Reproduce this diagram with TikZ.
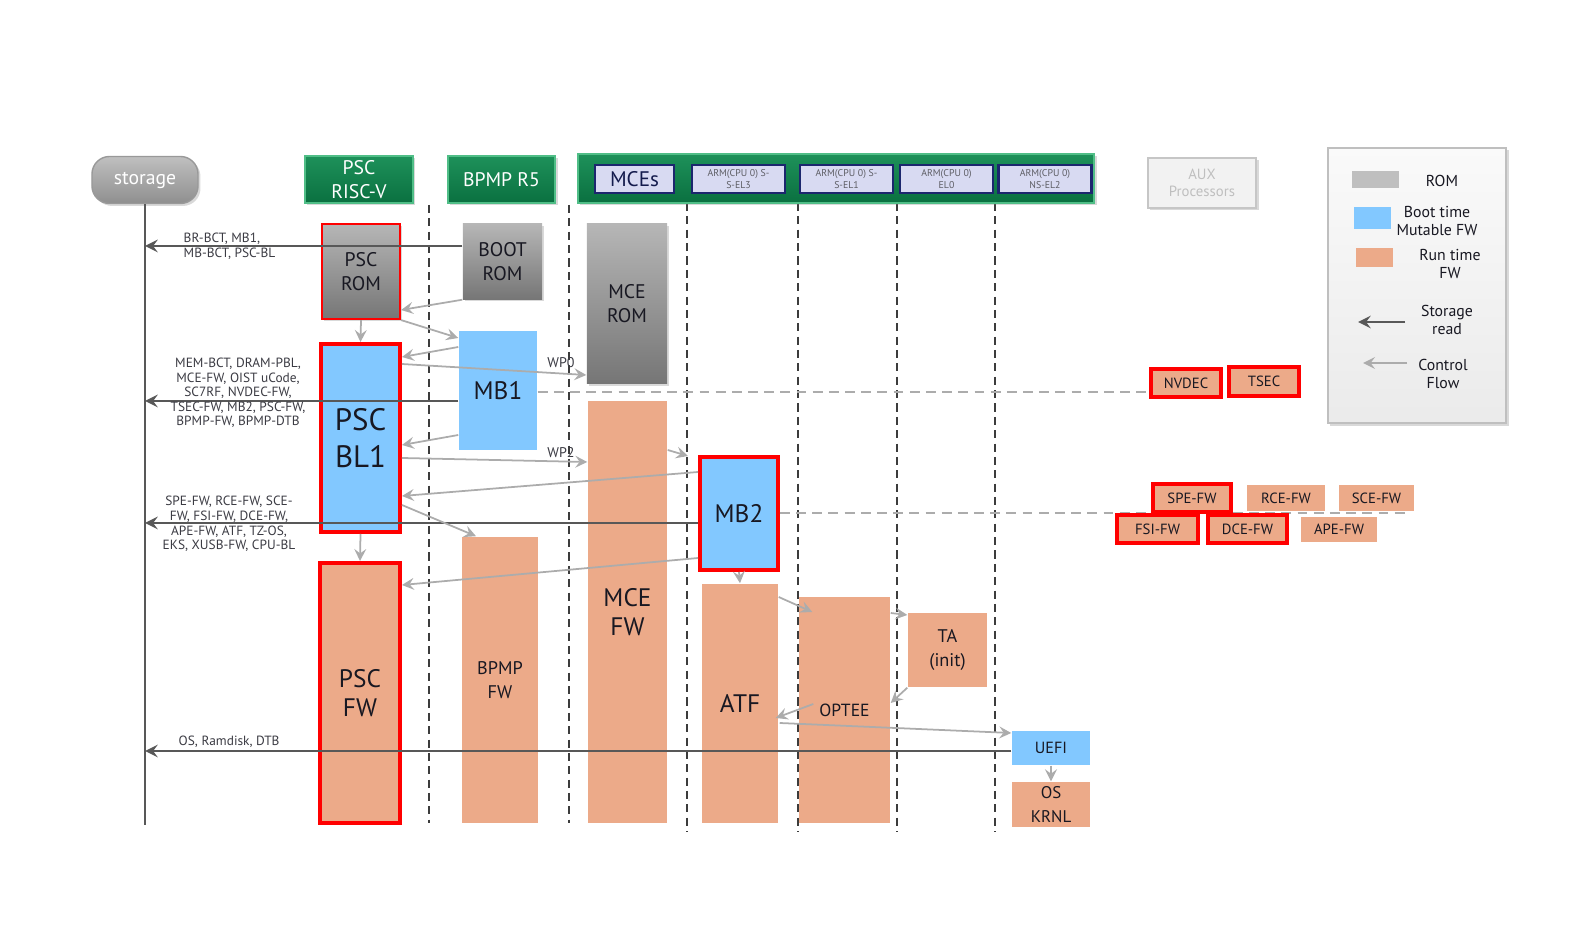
\documentclass[tikz,border=0pt]{standalone}
\usepackage{fontspec}
\setmainfont{PT Sans}
\usetikzlibrary{shadows,calc}
\definecolor{hdrgreen}{RGB}{10,112,64}
\definecolor{hdrlight}{RGB}{30,145,90}
\definecolor{hdredge}{RGB}{80,190,135}
\definecolor{romtop}{RGB}{182,182,182}
\definecolor{rombot}{RGB}{118,118,118}
\definecolor{bootblue}{RGB}{130,200,255}
\definecolor{runfw}{RGB}{236,170,137}
\definecolor{armfill}{RGB}{216,218,242}
\definecolor{armedge}{RGB}{28,38,110}
\definecolor{readline}{RGB}{88,88,88}
\definecolor{ctrlline}{RGB}{172,172,172}
\definecolor{lifeline}{RGB}{60,60,60}
\definecolor{txtdark}{RGB}{24,24,34}
\begin{document}
\begin{tikzpicture}[x=0.01cm,y=-0.01cm,>=stealth,
  fhuge/.style={font=\fontsize{8.8}{10.7}\selectfont},
  fbig/.style={font=\fontsize{7.2}{8.2}\selectfont},
  fmid/.style={font=\fontsize{5.6}{6.9}\selectfont},
  fsmall/.style={font=\fontsize{5.2}{6.9}\selectfont},
  ftiny/.style={font=\fontsize{4.2}{5}\selectfont},
  fleg/.style={font=\fontsize{4.5}{5.2}\selectfont},
  box/.style={inner sep=0pt,align=center,text=txtdark},
  shade/.style={drop shadow={shadow xshift=0.7pt,shadow yshift=-0.7pt,opacity=0.3}},
  rom/.style={box,fmid,top color=romtop,bottom color=rombot,shade},
  boot/.style={box,fill=bootblue},
  run/.style={box,fill=runfw},
  crit/.style={draw=red,line width=1.1pt},
  hdr/.style={box,fmid,text=white,top color=hdrlight,bottom color=hdrgreen,draw=hdredge,line width=0.5pt,shade},
  store/.style={box,fmid,text=white,rounded corners=5pt,top color=gray!50,middle color=gray!82,bottom color=gray!88,draw=gray!80,shade},
  arm/.style={box,fill=armfill,draw=armedge,line width=0.6pt,minimum width=0.93cm,minimum height=0.28cm,text=txtdark!70,font=\fontsize{2.8}{3.3}\selectfont},
  aux/.style={box,ftiny,fill=gray!10,draw=gray!45,line width=0.8pt,text=gray!50,shade},
  legbox/.style={box,top color=gray!4,bottom color=gray!16,draw=gray!50,line width=0.8pt,shade},
  fwsm/.style={box,ftiny,minimum height=0.28cm},
  life/.style={draw=lifeline,line width=0.55pt,dash pattern=on 2.3pt off 1.5pt},
  sep/.style={draw=ctrlline,line width=0.55pt,dash pattern=on 2.8pt off 1.8pt},
  rd/.style={->,draw=readline,line width=0.6pt},
  ctl/.style={->,draw=ctrlline,line width=0.5pt},
  lbl/.style={inner sep=0pt,align=center,text=txtdark!85,font=\fontsize{3.8}{4.15}\selectfont}
]
\useasboundingbox (0,0) rectangle (1591,928);
\foreach \lx/\ly/\lz in {429/205/823,569/205/823,687/203/832,798/203/832,897/203/832,995/203/832}
  \draw[life] (\lx,\ly) -- (\lx,\lz);

\node[store,minimum width=1.06cm,minimum height=0.47cm] (storage) at (145,180) {storage};
\node[hdr,minimum width=1.08cm,minimum height=0.47cm] (hpsc) at (359,179.5) {PSC\\RISC-V};
\node[hdr,minimum width=1.07cm,minimum height=0.47cm] (hbpmp) at (501.5,179.5) {BPMP R5};
\node[hdr,minimum width=5.16cm,minimum height=0.49cm] (hmce) at (836,178.5) {};
\node[arm,minimum width=0.79cm,text=armedge!70!black,font=\fontsize{6}{7}\selectfont] (mces) at (634.5,179) {MCEs};
\node[arm] (armsel3) at (738.5,179) {ARM(CPU 0) S-\\S-EL3};
\node[arm] (armsel1) at (846.5,179) {ARM(CPU 0) S-\\S-EL1};
\node[arm] (armel0) at (946.5,179) {ARM(CPU 0)\\EL0};
\node[arm] (armnsel2) at (1045,179) {ARM(CPU 0)\\NS-EL2};
\node[aux,minimum width=1.08cm,minimum height=0.50cm] (aux) at (1202,183) {AUX\\Processors};

\node[rom,crit,line width=0.6pt,minimum width=0.78cm,minimum height=0.95cm] (pscrom) at (361,271.5) {PSC\\ROM};
\node[rom,minimum width=0.79cm,minimum height=0.75cm] (bootrom) at (502.5,261.5) {BOOT\\ROM};
\node[rom,minimum width=0.80cm,minimum height=1.59cm] (mcerom) at (627,303.5) {MCE\\ROM};
\node[boot,fbig,minimum width=0.78cm,minimum height=1.19cm] (mbone) at (498,390.5) {MB1};
\node[boot,crit,fhuge,minimum width=0.79cm,minimum height=1.88cm] (pscbl) at (360.5,438) {PSC\\BL1};
\node[run,fbig,minimum width=0.79cm,minimum height=4.22cm] (mcefw) at (627.5,612) {MCE\\FW};
\node[boot,crit,fbig,minimum width=0.78cm,minimum height=1.13cm] (mbtwo) at (739,513.5) {MB2};
\node[run,fsmall,minimum width=0.76cm,minimum height=2.86cm] (bpmpfw) at (500,680) {BPMP\\FW};
\node[run,crit,fbig,minimum width=0.80cm,minimum height=2.60cm] (pscfw) at (360,693) {PSC\\FW};
\node[run,fbig,minimum width=0.76cm,minimum height=2.39cm] (atf) at (740,703.5) {ATF};
\node[run,font=\fontsize{5}{6}\selectfont,minimum width=0.91cm,minimum height=2.26cm] (optee) at (844.5,710) {OPTEE};
\node[run,fsmall,minimum width=0.79cm,minimum height=0.74cm] (ta) at (947.5,650) {TA\\(init)};
\node[boot,font=\fontsize{4.6}{5.5}\selectfont,minimum width=0.78cm,minimum height=0.34cm] (uefi) at (1051,748) {UEFI};
\node[run,font=\fontsize{4.8}{6.6}\selectfont,minimum width=0.78cm,minimum height=0.45cm] (oskrnl) at (1051,804.5) {OS\\KRNL};

\coordinate (septail) at (1410,513);
\draw[sep] (mbone.east |- 0,392) -- (1151,392) coordinate (sepend);
\draw[sep] (mbtwo.east |- 0,513) -- (septail);

\node[run,crit,fwsm,minimum width=0.70cm] (nvdec) at (1186,383) {NVDEC};
\node[run,crit,fwsm,minimum width=0.70cm,minimum height=0.29cm] (tsec) at (1264,381.5) {TSEC};
\node[run,crit,fwsm,minimum width=0.78cm] (spefw) at (1192,498) {SPE-FW};
\node[run,fwsm,minimum width=0.78cm,minimum height=0.26cm] (rcefw) at (1286,498) {RCE-FW};
\node[run,fwsm,minimum width=0.75cm,minimum height=0.26cm] (scefw) at (1376.5,498) {SCE-FW};
\node[run,crit,fwsm,minimum width=0.81cm] (fsifw) at (1157.5,529) {FSI-FW};
\node[run,crit,fwsm,minimum width=0.79cm] (dcefw) at (1247.5,529) {DCE-FW};
\node[run,fwsm,minimum width=0.76cm,minimum height=0.25cm] (apefw) at (1339,529.5) {APE-FW};

\draw[readline,line width=0.7pt] (storage.south) -- (storage.south |- 0,825);
\draw[rd] (bootrom.west |- 0,246) -- (storage.south |- 0,246);
\draw[rd] (mbone.west |- 0,401) -- (storage.south |- 0,401);
\draw[rd] (mbtwo.west |- 0,523) -- (storage.south |- 0,523);
\draw[rd] (uefi.west |- 0,751) -- (storage.south |- 0,751);
\node[lbl,anchor=west,align=left] (brlbl) at (183,246.5) {BR-BCT, MB1,\\MB-BCT, PSC-BL};
\node[lbl] (mblbl) at (238,393) {MEM-BCT, DRAM-PBL,\\MCE-FW, OIST uCode,\\SC7RF, NVDEC-FW,\\TSEC-FW, MB2, PSC-FW,\\BPMP-FW, BPMP-DTB};
\node[lbl] (mbtwolbl) at (229,524) {SPE-FW, RCE-FW, SCE-\\FW, FSI-FW, DCE-FW,\\APE-FW, ATF, TZ-OS,\\EKS, XUSB-FW, CPU-BL};
\node[lbl,anchor=west] (oslbl) at (178,742) {OS, Ramdisk, DTB};

\draw[ctl] (bootrom.south west) -- (pscrom.east |- 0,310);
\draw[ctl] (pscrom.south east) -- (mbone.west |- 0,338);
\draw[ctl] (pscrom.south) -- (pscbl.north);
\draw[ctl] (mbone.west |- 0,347) -- (pscbl.east |- 0,357);
\draw[ctl] (pscbl.east |- 0,364) -- (mcerom.west |- 0,375);
\node[lbl,font=\fontsize{4}{4.8}\selectfont] (wpzero) at (561,363) {WP0};
\draw[ctl] (mbone.west |- 0,435) -- (pscbl.east |- 0,445);
\draw[ctl] (pscbl.east |- 0,458) -- (mcefw.west |- 0,462);
\node[lbl,font=\fontsize{4}{4.8}\selectfont] (wptwo) at (561,453) {WP2};
\coordinate (mcetip) at (688,456);
\draw[ctl] (mcefw.east |- 0,450) -- (mcetip);
\draw[ctl] (mbtwo.west |- 0,472) -- (pscbl.east |- 0,496);
\draw[ctl] (pscbl.east |- 0,505) -- (bpmpfw.north -| 476,0);
\draw[ctl] (pscbl.south) -- (pscfw.north);
\draw[ctl] (mbtwo.west |- 0,558) -- (pscfw.east |- 0,585);
\draw[ctl] (mbtwo.south) -- (atf.north);
\draw[ctl] (atf.east |- 0,597) -- ($(optee.west |- 0,612)+(14,0)$);
\draw[ctl] (optee.east |- 0,613) -- (ta.west |- 0,615);
\draw[ctl] (ta.south west) -- (optee.east |- 0,703);
\draw[ctl] ($(optee.west |- 0,704)+(15,0)$) -- ($(atf.east |- 0,718)+(-3,0)$);
\draw[ctl] ($(atf.east |- 0,723)+(1,0)$) -- (uefi.west |- 0,733);
\draw[ctl] (uefi.south) -- (oskrnl.north);

\node[legbox,minimum width=1.78cm,minimum height=2.75cm] (legend) at (1417,285.5) {};
\node[box,fill=gray!50,minimum width=0.47cm,minimum height=0.17cm] (legrom) at (1375.5,179.5) {};
\node[box,fleg] (legromtxt) at (1442,181) {ROM};
\node[boot,minimum width=0.37cm,minimum height=0.22cm] (legboot) at (1372.5,218) {};
\node[box,fleg] (legboottxt) at (1437,221) {Boot time\\Mutable FW};
\node[run,minimum width=0.37cm,minimum height=0.19cm] (legrun) at (1374.5,257.5) {};
\node[box,fleg] (legruntxt) at (1450,264) {Run time\\FW};
\coordinate (legrdfrom) at (1405,322);
\coordinate (legrdto) at (1358,322);
\draw[rd] (legrdfrom) -- (legrdto);
\node[box,fleg] (legrdtxt) at (1447,320) {Storage\\read};
\coordinate (legctlfrom) at (1407,363);
\coordinate (legctlto) at (1363,363);
\draw[ctl] (legctlfrom) -- (legctlto);
\node[box,fleg] (legctltxt) at (1443,374) {Control\\Flow};
\end{tikzpicture}
\end{document}
